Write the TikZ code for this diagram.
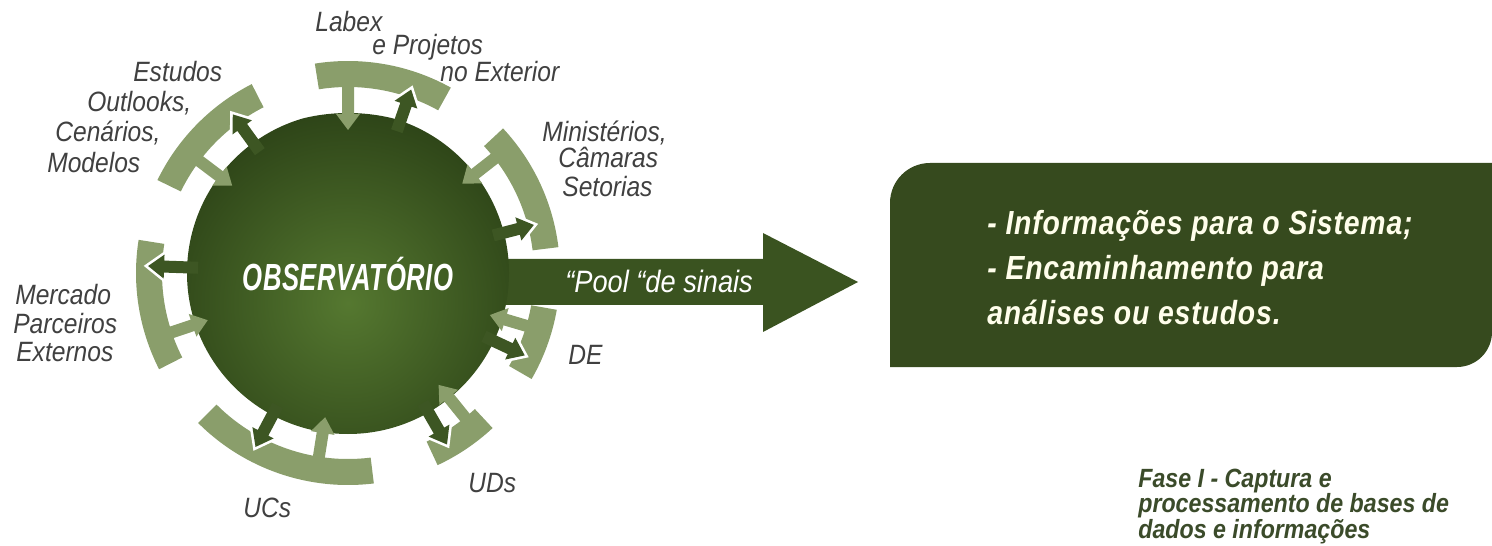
\documentclass[tikz,border=0pt]{standalone}
\usepackage{fontspec}
\setmainfont{Liberation Sans}
\newfontfamily\lblfont{Liberation Sans}[FakeStretch=0.88]
\newfontfamily\boxfont{Liberation Sans}[FakeStretch=0.85,LetterSpace=2.5]
\newfontfamily\obsfont{Liberation Sans}[FakeStretch=0.68,LetterSpace=1.5]

\definecolor{bandgreen}{HTML}{8A9E6B}
\definecolor{darkgreen}{HTML}{3D5623}
\definecolor{arrowgreen}{HTML}{3A5320}
\definecolor{boxgreen}{HTML}{364A1E}
\definecolor{obsouter}{HTML}{2E4518}
\definecolor{obsinner}{HTML}{557830}
\definecolor{labelgray}{HTML}{404040}
\definecolor{fasegreen}{HTML}{3B4B2A}

% a band round the circle, from angle #1 to angle #2
\newcommand{\sigband}[2]{\fill[bandgreen] (#1:186) arc[start angle=#1, end angle=#2, radius=186]
  -- (#2:212) arc[start angle=#2, end angle=#1, radius=212] -- cycle;}
% a radial arrow: style, angle, start radius, tip radius
\newcommand{\sigarrow}[4]{\path[#1, rotate=#2] (#3,-6) -- ({#4-16*sign(#4-#3)},-6)
  -- ({#4-16*sign(#4-#3)},-12) -- (#4,0) -- ({#4-16*sign(#4-#3)},12)
  -- ({#4-16*sign(#4-#3)},6) -- (#3,6) -- cycle;}

\tikzset{
  lbl/.style={font=\lblfont\itshape\fontsize{15.9}{17}\selectfont, text=labelgray, inner sep=0pt, anchor=base west},
  obstxt/.style={font=\obsfont\bfseries\itshape\fontsize{21.5}{23}\selectfont, text=white, inner sep=0pt, anchor=base},
  pooltxt/.style={font=\lblfont\itshape\fontsize{17.6}{19}\selectfont, text=white, inner sep=0pt, anchor=base west},
  boxtxt/.style={font=\boxfont\bfseries\itshape\fontsize{19}{21}\selectfont, text=white!92!yellow, inner sep=0pt, anchor=base west},
  fasetxt/.style={font=\lblfont\bfseries\itshape\fontsize{15}{16}\selectfont, text=fasegreen, inner sep=0pt, anchor=base west},
  outline/.style={draw=white, line width=3pt},
}

\begin{document}
\begin{tikzpicture}[x=0.02cm, y=0.02cm]
\useasboundingbox (0,0) rectangle (1492,545);

\coordinate (obs) at (348,272);

% the pool arrow
\fill[arrowgreen] (470,240) -- (763,240) -- (763,213) -- (858,263) -- (763,312) -- (763,286) -- (470,286) -- cycle;

% bands and signal arrows round the observatory
\begin{scope}[shift={(obs)}]
\sigband{117}{154} % estudos
\sigband{61}{99}   % labex
\sigband{7}{43}    % ministerios
\sigband{171}{207} % mercado
\sigband{225}{277} % ucs
\sigband{-65}{-47} % uds
\sigband{-30}{-10} % de

\sigarrow{outline}{126}{150}{196}
\sigarrow{outline}{71}{150}{194}
\sigarrow{outline}{14.5}{150}{192}
\sigarrow{outline}{178}{150}{200}
\sigarrow{outline}{242}{150}{197}
\sigarrow{outline}{-60}{150}{198}
\sigarrow{outline}{-25}{150}{195}

% the observatory itself
\begin{scope}
\clip (0,0) circle[radius=161];
\shade[inner color=obsinner, outer color=obsouter] (0,-30) circle[radius=190];
\end{scope}

%out
\sigarrow{fill=darkgreen}{126}{150}{196}
\sigarrow{fill=darkgreen}{71}{150}{194}
\sigarrow{fill=darkgreen}{14.5}{150}{192}
\sigarrow{fill=darkgreen}{178}{150}{200}
\sigarrow{fill=darkgreen}{242}{150}{197}
\sigarrow{fill=darkgreen}{-60}{150}{198}
\sigarrow{fill=darkgreen}{-25}{150}{195}

%in
\sigarrow{fill=bandgreen}{143}{190}{145}
\sigarrow{fill=bandgreen}{90}{188}{143}
\sigarrow{fill=bandgreen}{38}{188}{145}
\sigarrow{fill=bandgreen}{198.6}{188}{148}
\sigarrow{fill=bandgreen}{261}{190}{146}
\sigarrow{fill=bandgreen}{-51}{190}{144}
\sigarrow{fill=bandgreen}{-16.5}{190}{148}
\end{scope}

\node[obstxt] (obstitle) at (348,255) {OBSERVATÓRIO};
\node[pooltxt] (pool) at (565,253) {“Pool “de sinais};

% sources
\node[lbl] (estudos) at (133,463) {Estudos};
\node[lbl] (outlooks) at (87,433) {Outlooks,};
\node[lbl] (cenarios) at (55,403) {Cenários,};
\node[lbl] (modelos) at (47,372) {Modelos};

\node[lbl] (labex) at (315,513) {Labex};
\node[lbl] (projetos) at (372,490) {e Projetos};
\node[lbl] (exterior) at (440,463) {no Exterior};

\node[lbl] (ministerios) at (542,403) {Ministérios,};
\node[lbl] (camaras) at (558,377) {Câmaras};
\node[lbl] (setorias) at (562,348) {Setorias};

\node[lbl] (mercado) at (15,240) {Mercado};
\node[lbl] (parceiros) at (13,212) {Parceiros};
\node[lbl] (externos) at (16,183) {Externos};

\node[lbl] (de) at (568,180) {DE};
\node[lbl] (uds) at (468,53) {UDs};
\node[lbl] (ucs) at (243,28) {UCs};

% result box
\fill[boxgreen] (890,178) -- (890,342) arc[start angle=180, end angle=90, radius=40] -- (1492,382)
  -- (1492,213) arc[start angle=0, end angle=-90, radius=35] -- cycle;
\node[boxtxt] (info1) at (987,310) {- Informações para o Sistema;};
\node[boxtxt] (info2) at (987,265) {- Encaminhamento para};
\node[boxtxt] (info3) at (987,220) {análises ou estudos.};

\node[fasetxt] (fase1) at (1138,58) {Fase I - Captura e};
\node[fasetxt] (fase2) at (1138,33) {processamento de bases de};
\node[fasetxt] (fase3) at (1138,7) {dados e informações};

\end{tikzpicture}
\end{document}
